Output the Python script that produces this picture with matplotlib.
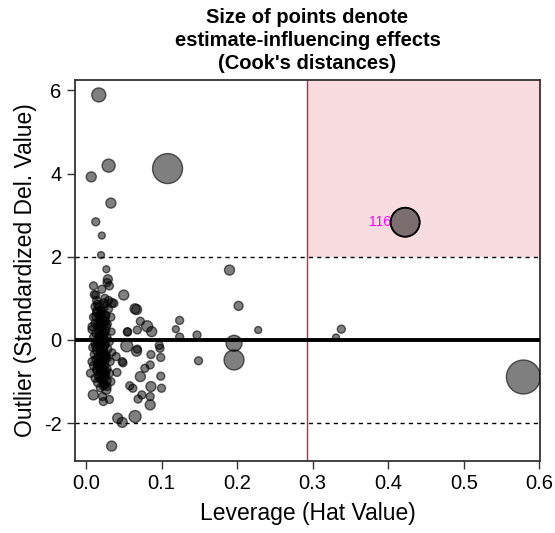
import matplotlib
matplotlib.use("Agg")
import matplotlib.pyplot as plt
import numpy as np

plt.rcParams['font.family'] = ['Liberation Sans', 'DejaVu Sans']
plt.rcParams['axes.unicode_minus'] = False

# Leverage (hat values)
hat = [
    0.017, 0.030, 0.007, 0.108, 0.033, 0.013, 0.021, 0.020, 0.027, 0.029,
    0.010, 0.031, 0.021, 0.011, 0.050, 0.034, 0.065, 0.067, 0.072, 0.081,
    0.087, 0.124, 0.119, 0.124, 0.055, 0.068, 0.054, 0.067, 0.068, 0.097,
    0.098, 0.086, 0.099, 0.040, 0.048, 0.085, 0.078, 0.041, 0.072, 0.099,
    0.058, 0.062, 0.086, 0.100, 0.074, 0.085, 0.069, 0.085, 0.042, 0.048,
    0.065, 0.034, 0.190, 0.202, 0.147, 0.228, 0.196, 0.196, 0.149, 0.338,
    0.331, 0.4225, 0.579, 0.049, 0.0097, 0.022, 0.023, 0.031, 0.023, 0.028,
    0.008, 0.006, 0.028, 0.013, 0.024, 0.037, 0.013, 0.026, 0.008, 0.055,
    0.012, 0.018, 0.024, 0.030, 0.015, 0.021, 0.027, 0.010, 0.033, 0.018,
    0.024, 0.012, 0.029, 0.016, 0.021, 0.008, 0.026, 0.034, 0.013, 0.019,
    0.023, 0.010, 0.028, 0.016, 0.021, 0.031, 0.012, 0.025, 0.018, 0.009,
    0.022, 0.029, 0.014, 0.020, 0.035, 0.011, 0.024, 0.017, 0.028, 0.013,
    0.021, 0.032, 0.016, 0.025, 0.010, 0.019, 0.028, 0.014, 0.022, 0.031,
    0.017, 0.025, 0.012, 0.020, 0.028, 0.016, 0.024, 0.033, 0.019, 0.027,
    0.015, 0.027, 0.020, 0.017, 0.023, 0.019, 0.026, 0.014, 0.025, 0.030,
    0.018, 0.022, 0.026, 0.015, 0.020, 0.024, 0.017, 0.021, 0.025, 0.013,
    0.019, 0.023, 0.027, 0.016, 0.020, 0.024, 0.018, 0.022, 0.015, 0.026,
    0.019, 0.023, 0.017, 0.021, 0.025, 0.014, 0.020, 0.024, 0.018, 0.022,
    0.016, 0.020, 0.026, 0.019, 0.023, 0.015, 0.021, 0.018, 0.024, 0.020,
]

# Studentized deleted residuals
rstud = [
    5.89, 4.19, 3.92, 4.12, 3.29, 2.84, 2.51, 2.04, 1.70, 1.46,
    1.30, 1.30, 1.22, 1.09, 1.08, 0.89, 0.75, 0.73, 0.45, 0.33,
    0.20, 0.47, 0.26, 0.07, 0.19, 0.24, -0.14, -0.27, -0.22, -0.13,
    -0.20, -0.35, -0.42, -0.40, -0.52, -0.60, -0.68, -0.78, -0.88, -0.87,
    -1.10, -1.16, -1.12, -1.16, -1.32, -1.36, -1.42, -1.56, -1.88, -1.98,
    -1.84, -2.55, 1.68, 0.82, 0.12, 0.24, -0.08, -0.48, -0.50, 0.26,
    0.06, 2.83, -0.89, -0.55, -1.32, -1.36, -1.48, -1.43, -1.10, -1.12,
    -0.52, -0.80, 1.38, 1.08, 0.88, 0.88, 0.56, 0.56, 0.32, 0.20,
    0.80, 0.82, 0.78, 0.75, 0.66, 0.62, 0.60, 0.55, 0.55, 0.48,
    0.45, 0.40, 0.38, 0.32, 0.28, 0.25, 0.22, 0.20, 0.16, 0.12,
    0.10, 0.06, 0.05, 0.02, -0.02, -0.04, -0.08, -0.10, -0.14, -0.18,
    -0.20, -0.22, -0.26, -0.30, -0.30, -0.35, -0.36, -0.40, -0.44, -0.46,
    -0.50, -0.52, -0.56, -0.60, -0.62, -0.66, -0.70, -0.72, -0.76, -0.80,
    -0.84, -0.88, -0.92, -0.96, -0.98, -1.02, -1.05, -1.00, -1.15, -1.20,
    -0.05, 0.32, 0.70, -0.62, -0.25, 0.40, -0.82, 0.95, 1.00, 0.95,
    0.58, 0.50, 0.42, 0.36, 0.30, 0.14, 0.08, -0.06, -0.12, -0.16,
    -0.28, -0.32, -0.38, -0.42, -0.48, -0.54, -0.58, -0.64, -0.68, -0.74,
    -0.78, -0.86, -0.90, -0.94, -1.08, 0.70, 0.64, 0.18, -0.02, 0.04,
    0.26, -0.16, -0.44, -0.70, -0.86, 0.86, 0.46, 0.12, -0.34, -0.58,
]

# Cook's distances (point area proportional)
cook = [
    0.102, 0.088, 0.052, 0.467, 0.052, 0.033, 0.025, 0.025, 0.025, 0.042,
    0.033, 0.033, 0.033, 0.033, 0.052, 0.042, 0.052, 0.052, 0.033, 0.063,
    0.052, 0.033, 0.025, 0.033, 0.033, 0.033, 0.075, 0.052, 0.033, 0.033,
    0.033, 0.033, 0.033, 0.033, 0.033, 0.033, 0.033, 0.033, 0.052, 0.033,
    0.033, 0.033, 0.052, 0.033, 0.033, 0.033, 0.033, 0.052, 0.052, 0.052,
    0.075, 0.052, 0.052, 0.042, 0.033, 0.025, 0.133, 0.208, 0.033, 0.033,
    0.025, 0.437, 0.600, 0.033, 0.052, 0.033, 0.033, 0.033, 0.033, 0.033,
    0.033, 0.033, 0.033, 0.033, 0.042, 0.033, 0.033, 0.033, 0.033, 0.033,
    0.033, 0.042, 0.033, 0.033, 0.042, 0.033, 0.025, 0.033, 0.033, 0.033,
    0.042, 0.033, 0.025, 0.033, 0.042, 0.033, 0.033, 0.025, 0.033, 0.033,
    0.042, 0.033, 0.033, 0.033, 0.042, 0.033, 0.033, 0.042, 0.033, 0.033,
    0.042, 0.033, 0.033, 0.033, 0.025, 0.033, 0.042, 0.033, 0.033, 0.033,
    0.033, 0.033, 0.042, 0.033, 0.033, 0.033, 0.033, 0.033, 0.042, 0.033,
    0.033, 0.042, 0.033, 0.033, 0.033, 0.042, 0.033, 0.033, 0.033, 0.042,
    0.033, 0.033, 0.033, 0.033, 0.042, 0.033, 0.033, 0.033, 0.033, 0.033,
    0.033, 0.033, 0.033, 0.033, 0.033, 0.033, 0.033, 0.033, 0.033, 0.033,
    0.033, 0.033, 0.033, 0.033, 0.033, 0.033, 0.033, 0.033, 0.033, 0.033,
    0.033, 0.033, 0.033, 0.033, 0.033, 0.033, 0.033, 0.033, 0.033, 0.033,
    0.033, 0.033, 0.033, 0.033, 0.033, 0.033, 0.033, 0.033, 0.033, 0.033,
]

hat_cut = 0.293
resid_cut = 2.0
label_idx = 61
label_text = "116"

fig = plt.figure(figsize=(5.55, 5.33), dpi=100)
ax = fig.add_axes([0.135, 0.135, 0.838, 0.715])

xlim = (-0.0146, 0.601)
ylim = (-2.91, 6.25)
ax.set_xlim(*xlim)
ax.set_ylim(*ylim)

# pink region
ax.fill_between([hat_cut, xlim[1]], resid_cut, ylim[1], color="#F9DCE0", zorder=0, lw=0)

# points
hat_a = np.array(hat)
rs_a = np.array(rstud)
ck_a = np.array(cook)
r_px = 17 * np.sqrt(ck_a / ck_a.max())
sizes = (2 * r_px * 0.72) ** 2
ax.scatter(hat_a, rs_a, s=sizes, facecolor=(0, 0, 0, 0.5), edgecolor=(0, 0, 0, 0.6),
           linewidth=1.0, zorder=3)
ax.scatter([hat[label_idx]], [rstud[label_idx]], s=[sizes[label_idx]], facecolor="none",
           edgecolor="black", linewidth=1.3, zorder=4)
ax.text(hat[label_idx] - 0.019, rstud[label_idx], label_text, color="#FF00FF",
        fontsize=10, ha="right", va="center", zorder=5)

# reference lines
ax.axhline(0, color="black", lw=2.8, zorder=4)
ax.axhline(resid_cut, color="black", lw=1.0, ls=(0, (3, 3)), zorder=2)
ax.axhline(-resid_cut, color="black", lw=1.0, ls=(0, (3, 3)), zorder=2)
ax.axvline(hat_cut, color="#D01F45", lw=1.0, zorder=2)

ax.set_xticks([0.0, 0.1, 0.2, 0.3, 0.4, 0.5, 0.6])
ax.set_xticklabels(["0.0", "0.1", "0.2", "0.3", "0.4", "0.5", "0.6"])
ax.set_yticks([-2, 0, 2, 4, 6])
ax.tick_params(axis="both", labelsize=14.5, length=6, width=1.0, color="#333333")
for sp in ax.spines.values():
    sp.set_linewidth(1.3)
    sp.set_color("#333333")

ax.set_xlabel("Leverage (Hat Value)", fontsize=16.5, labelpad=6)
ax.set_ylabel("Outlier (Standardized Del. Value)", fontsize=16.5, labelpad=5)
ax.set_title("Size of points denote\nestimate-influencing effects\n(Cook's distances)",
             fontsize=14.5, fontweight="bold", linespacing=1.25, pad=8)

fig.savefig("out.png", dpi=100)
